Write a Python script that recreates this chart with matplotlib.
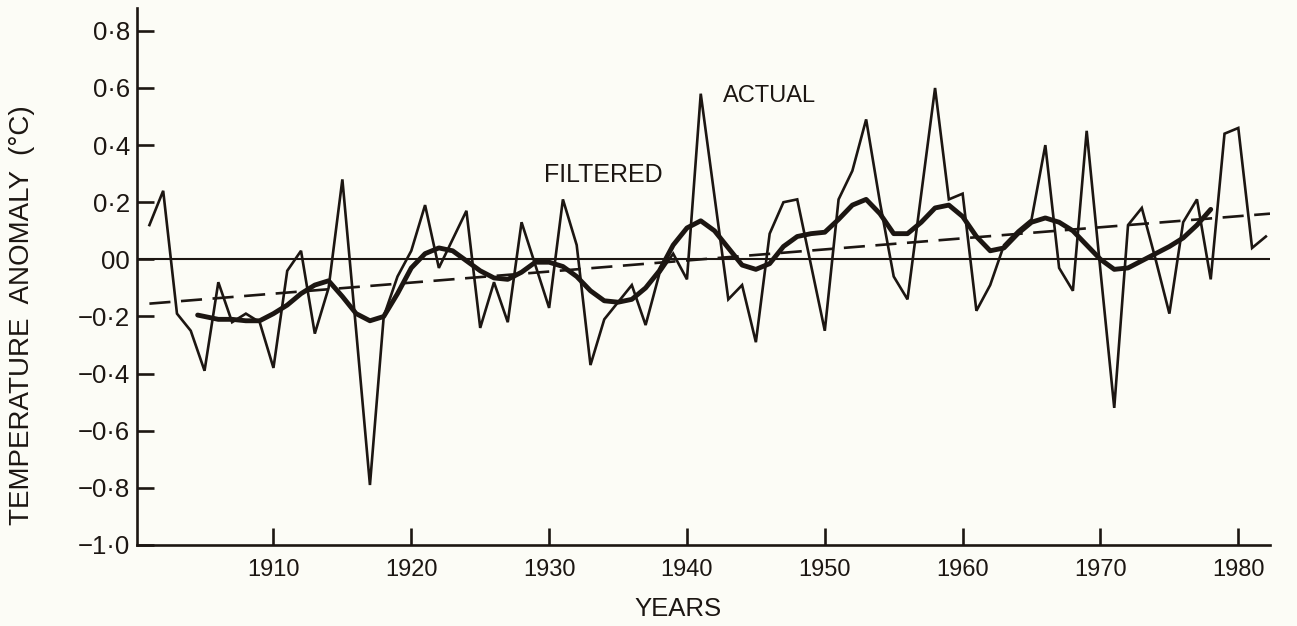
import matplotlib
matplotlib.use("Agg")
import matplotlib.pyplot as plt

# ---------------- data ----------------
actual_years = list(range(1901, 1983))
actual_vals = [0.12, 0.24, -0.19, -0.25, -0.39, -0.08, -0.22, -0.19, -0.22, -0.38,
               -0.04, 0.03, -0.26, -0.10, 0.28, -0.25, -0.79, -0.20, -0.06, 0.03,
               0.19, -0.03, 0.07, 0.17, -0.24, -0.08, -0.22, 0.13, -0.02, -0.17,
               0.21, 0.05, -0.37, -0.21, -0.15, -0.09, -0.23, -0.05, 0.02, -0.07,
               0.58, 0.22, -0.14, -0.09, -0.29, 0.09, 0.20, 0.21, -0.02, -0.25,
               0.21, 0.31, 0.49, 0.20, -0.06, -0.14, 0.23, 0.60, 0.21, 0.23,
               -0.18, -0.09, 0.05, 0.10, 0.14, 0.40, -0.03, -0.11, 0.45, -0.04,
               -0.52, 0.12, 0.18, 0.00, -0.19, 0.13, 0.21, -0.07, 0.44, 0.46,
               0.04, 0.08]

filtered_years = [1904.5] + list(range(1905, 1979))
filtered_vals = [-0.195, -0.20, -0.21, -0.21, -0.215, -0.215, -0.19, -0.16, -0.12, -0.09,
                 -0.075, -0.13, -0.19, -0.215, -0.20, -0.12, -0.03, 0.02, 0.04, 0.03,
                 -0.005, -0.04, -0.065, -0.07, -0.045, -0.01, -0.01, -0.025, -0.06, -0.11,
                 -0.145, -0.15, -0.14, -0.10, -0.04, 0.05, 0.11, 0.135, 0.10, 0.04,
                 -0.02, -0.035, -0.015, 0.045, 0.08, 0.09, 0.095, 0.14, 0.19, 0.21,
                 0.16, 0.09, 0.09, 0.13, 0.18, 0.19, 0.15, 0.08, 0.03, 0.04,
                 0.09, 0.13, 0.145, 0.13, 0.10, 0.05, 0.0, -0.035, -0.03, -0.005,
                 0.02, 0.045, 0.075, 0.12, 0.175]

trend_years = [1901, 1982.3]
trend_vals = [-0.155, 0.16]

xticks = [1910, 1920, 1930, 1940, 1950, 1960, 1970, 1980]
yticks = [0.8, 0.6, 0.4, 0.2, 0.0, -0.2, -0.4, -0.6, -0.8, -1.0]
ytick_labels = ["0·8", "0·6", "0·4", "0·2", "00", "−0·2", "−0·4", "−0·6", "−0·8", "−1·0"]

# ---------------- style ----------------
ink = "#1c1612"
bg = "#fcfcf6"
plt.rcParams['font.family'] = ['Liberation Sans', 'DejaVu Sans']

fig = plt.figure(figsize=(12.97, 6.26), dpi=100, facecolor=bg)
ax = fig.add_axes([137 / 1297, 1 - 545 / 626, (1270 - 137) / 1297, (545 - 8) / 626])
ax.set_facecolor(bg)

ax.plot(actual_years, actual_vals, color=ink, lw=1.9, solid_joinstyle='miter')
ax.plot(filtered_years, filtered_vals, color=ink, lw=3.5, solid_joinstyle='round',
        solid_capstyle='round')
ax.plot(trend_years, trend_vals, color=ink, lw=1.9, dashes=(8, 4))
ax.axhline(0.0, color=ink, lw=1.5)

ax.set_xlim(1900.1, 1982.3)
ax.set_ylim(-1.0, 0.88)

for s in ['top', 'right']:
    ax.spines[s].set_visible(False)
for s in ['left', 'bottom']:
    ax.spines[s].set_color(ink)
    ax.spines[s].set_linewidth(1.9)

ax.set_xticks(xticks)
ax.set_xticklabels([str(t) for t in xticks])
ax.set_yticks(yticks)
ax.set_yticklabels(ytick_labels)
ax.tick_params(axis='both', direction='in', length=12, width=1.9, color=ink,
               labelcolor=ink)
ax.tick_params(axis='x', pad=10, labelsize=17)
ax.tick_params(axis='y', pad=5, labelsize=18.5)

ax.text(1933.9, 0.295, "FILTERED", ha='center', va='center', fontsize=18, color=ink)
ax.text(1946.0, 0.572, "ACTUAL", ha='center', va='center', fontsize=17, color=ink)

fig.text(22 / 1297, 1 - 315 / 626, "TEMPERATURE  ANOMALY  (°C)", rotation=90,
         ha='center', va='center', fontsize=20, color=ink)
fig.text(678 / 1297, 1 - 609 / 626, "YEARS", ha='center', va='center',
         fontsize=18.5, color=ink)

fig.savefig("out.png", dpi=100, facecolor=bg)
